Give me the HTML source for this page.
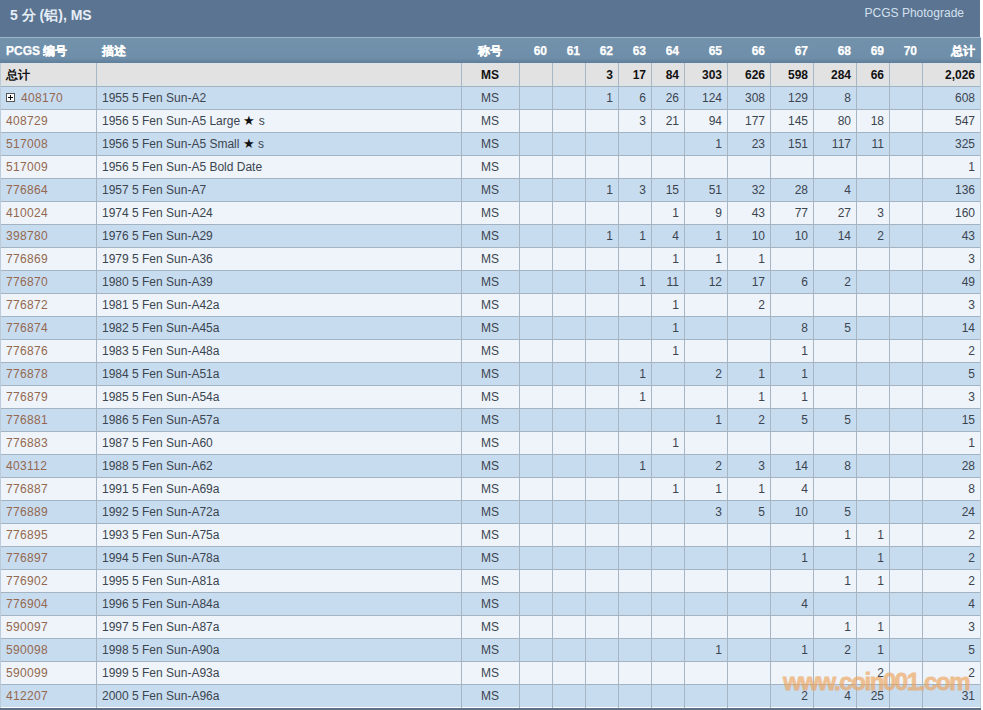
<!DOCTYPE html>
<html><head><meta charset="utf-8"><style>
*{margin:0;padding:0;box-sizing:border-box}
html,body{width:983px;height:710px;overflow:hidden;background:#fff}
body{position:relative;font-family:"Liberation Sans",sans-serif;font-size:12px;color:#3b4550}
.a{position:absolute}
#title{left:0;top:0;width:980px;height:37px;background:#5b7491}
#title .t{left:10px;top:6px;font-size:14px;font-weight:bold;color:#e6eef7;line-height:18px;white-space:nowrap}
#title .p{right:16px;top:5px;font-size:12px;color:#d3e1ef;line-height:16px}
#hline{left:0;top:37px;width:981px;height:1px;background:#9fb6cc}
#head{left:0;top:38px;width:981px;height:25px;background:linear-gradient(#7292ac 0,#6f8ea9 80%,#5f7e99 100%)}
.h{top:0;height:25px;line-height:26px;font-weight:bold;color:#fff;-webkit-text-stroke:0.25px #fff;white-space:nowrap}
#tot{left:0;top:63px;width:981px;height:23px;background:linear-gradient(#dde3e8 0,#e2e2e3 1px,#e2e2e3 19px,#e0e4e4 21px,#dde4e6 23px)}
.r{left:0;width:981px;height:23px}
.o{background:#c8dcef}
.e{background:#eef4f9}
.c{height:23px;line-height:25px;white-space:nowrap}
.vl{width:1px;background:#a7b6c4}
.hl{left:0;width:981px;height:1px;background:#a3b3c2}
.lk{color:#946850;letter-spacing:0.35px}
.b{font-weight:bold;color:#111}
.st{color:#111;font-size:13px;line-height:0}
#wm{left:783px;top:668px;font-size:24px;font-weight:bold;color:#eea258;-webkit-text-stroke:0.8px #eea258;opacity:0.64;letter-spacing:-1.4px;line-height:28px;white-space:nowrap}
.plus{left:6px;width:9px;height:9px;border:1px solid #555;background:#fff}
.plus:before{content:"";position:absolute;left:1px;top:3px;width:5px;height:1px;background:#000}
.plus:after{content:"";position:absolute;left:3px;top:1px;width:1px;height:5px;background:#000}
</style></head><body>

<div id="title" class="a"><div class="a t">5 分 (铝), MS</div><div class="a p">PCGS Photograde</div></div>
<div id="hline" class="a"></div>
<div id="head" class="a"><div class="a h" style="left:6px">PCGS 编号</div><div class="a h" style="left:102px">描述</div><div class="a h" style="left:461px;width:58px;text-align:center">称号</div><div class="a h" style="left:519px;width:28px;text-align:right">60</div><div class="a h" style="left:552px;width:28px;text-align:right">61</div><div class="a h" style="left:585px;width:28px;text-align:right">62</div><div class="a h" style="left:618px;width:28px;text-align:right">63</div><div class="a h" style="left:651px;width:28px;text-align:right">64</div><div class="a h" style="left:684px;width:38px;text-align:right">65</div><div class="a h" style="left:727px;width:38px;text-align:right">66</div><div class="a h" style="left:770px;width:38px;text-align:right">67</div><div class="a h" style="left:813px;width:38px;text-align:right">68</div><div class="a h" style="left:856px;width:28px;text-align:right">69</div><div class="a h" style="left:889px;width:28px;text-align:right">70</div><div class="a h" style="left:922px;width:53px;text-align:right">总计</div></div>
<div id="tot" class="a"></div>
<div class="a r o" style="top:86px"></div>
<div class="a plus" style="top:93px"></div>
<div class="a r e" style="top:109px"></div>
<div class="a r o" style="top:132px"></div>
<div class="a r e" style="top:155px"></div>
<div class="a r o" style="top:178px"></div>
<div class="a r e" style="top:201px"></div>
<div class="a r o" style="top:224px"></div>
<div class="a r e" style="top:247px"></div>
<div class="a r o" style="top:270px"></div>
<div class="a r e" style="top:293px"></div>
<div class="a r o" style="top:316px"></div>
<div class="a r e" style="top:339px"></div>
<div class="a r o" style="top:362px"></div>
<div class="a r e" style="top:385px"></div>
<div class="a r o" style="top:408px"></div>
<div class="a r e" style="top:431px"></div>
<div class="a r o" style="top:454px"></div>
<div class="a r e" style="top:477px"></div>
<div class="a r o" style="top:500px"></div>
<div class="a r e" style="top:523px"></div>
<div class="a r o" style="top:546px"></div>
<div class="a r e" style="top:569px"></div>
<div class="a r o" style="top:592px"></div>
<div class="a r e" style="top:615px"></div>
<div class="a r o" style="top:638px"></div>
<div class="a r e" style="top:661px"></div>
<div class="a r o" style="top:684px"></div>
<div class="a hl" style="top:86px"></div>
<div class="a hl" style="top:109px"></div>
<div class="a hl" style="top:132px"></div>
<div class="a hl" style="top:155px"></div>
<div class="a hl" style="top:178px"></div>
<div class="a hl" style="top:201px"></div>
<div class="a hl" style="top:224px"></div>
<div class="a hl" style="top:247px"></div>
<div class="a hl" style="top:270px"></div>
<div class="a hl" style="top:293px"></div>
<div class="a hl" style="top:316px"></div>
<div class="a hl" style="top:339px"></div>
<div class="a hl" style="top:362px"></div>
<div class="a hl" style="top:385px"></div>
<div class="a hl" style="top:408px"></div>
<div class="a hl" style="top:431px"></div>
<div class="a hl" style="top:454px"></div>
<div class="a hl" style="top:477px"></div>
<div class="a hl" style="top:500px"></div>
<div class="a hl" style="top:523px"></div>
<div class="a hl" style="top:546px"></div>
<div class="a hl" style="top:569px"></div>
<div class="a hl" style="top:592px"></div>
<div class="a hl" style="top:615px"></div>
<div class="a hl" style="top:638px"></div>
<div class="a hl" style="top:661px"></div>
<div class="a hl" style="top:684px"></div>
<div class="a" style="left:0;top:708px;width:981px;height:2px;background:#5d7188"></div>
<div class="a vl" style="left:0px;top:63px;height:645px;background:#bccbd9"></div>
<div class="a vl" style="left:96px;top:63px;height:645px"></div>
<div class="a vl" style="left:461px;top:63px;height:645px"></div>
<div class="a vl" style="left:519px;top:63px;height:645px"></div>
<div class="a vl" style="left:552px;top:63px;height:645px"></div>
<div class="a vl" style="left:585px;top:63px;height:645px"></div>
<div class="a vl" style="left:618px;top:63px;height:645px"></div>
<div class="a vl" style="left:651px;top:63px;height:645px"></div>
<div class="a vl" style="left:684px;top:63px;height:645px"></div>
<div class="a vl" style="left:727px;top:63px;height:645px"></div>
<div class="a vl" style="left:770px;top:63px;height:645px"></div>
<div class="a vl" style="left:813px;top:63px;height:645px"></div>
<div class="a vl" style="left:856px;top:63px;height:645px"></div>
<div class="a vl" style="left:889px;top:63px;height:645px"></div>
<div class="a vl" style="left:922px;top:63px;height:645px"></div>
<div class="a vl" style="left:980px;top:63px;height:645px;background:#bccbd9"></div>
<div id="wm" class="a">www.coin001.com</div>
<div class="a c b " style="left:6px;top:63px">总计</div><div class="a c b" style="left:102px;top:63px"></div><div class="a c b" style="left:461px;top:63px;width:58px;text-align:center">MS</div><div class="a c b" style="left:585px;top:63px;width:28px;text-align:right">3</div><div class="a c b" style="left:618px;top:63px;width:28px;text-align:right">17</div><div class="a c b" style="left:651px;top:63px;width:28px;text-align:right">84</div><div class="a c b" style="left:684px;top:63px;width:38px;text-align:right">303</div><div class="a c b" style="left:727px;top:63px;width:38px;text-align:right">626</div><div class="a c b" style="left:770px;top:63px;width:38px;text-align:right">598</div><div class="a c b" style="left:813px;top:63px;width:38px;text-align:right">284</div><div class="a c b" style="left:856px;top:63px;width:28px;text-align:right">66</div><div class="a c b" style="left:922px;top:63px;width:53px;text-align:right">2,026</div>
<div class="a c " style="left:6px;top:86px"><span class="lk" style="margin-left:15px">408170</span></div><div class="a c" style="left:102px;top:86px">1955 5 Fen Sun-A2</div><div class="a c" style="left:461px;top:86px;width:58px;text-align:center">MS</div><div class="a c" style="left:585px;top:86px;width:28px;text-align:right">1</div><div class="a c" style="left:618px;top:86px;width:28px;text-align:right">6</div><div class="a c" style="left:651px;top:86px;width:28px;text-align:right">26</div><div class="a c" style="left:684px;top:86px;width:38px;text-align:right">124</div><div class="a c" style="left:727px;top:86px;width:38px;text-align:right">308</div><div class="a c" style="left:770px;top:86px;width:38px;text-align:right">129</div><div class="a c" style="left:813px;top:86px;width:38px;text-align:right">8</div><div class="a c" style="left:922px;top:86px;width:53px;text-align:right">608</div>
<div class="a c " style="left:6px;top:109px"><span class="lk">408729</span></div><div class="a c" style="left:102px;top:109px">1956 5 Fen Sun-A5 Large <span class="st">★</span> s</div><div class="a c" style="left:461px;top:109px;width:58px;text-align:center">MS</div><div class="a c" style="left:618px;top:109px;width:28px;text-align:right">3</div><div class="a c" style="left:651px;top:109px;width:28px;text-align:right">21</div><div class="a c" style="left:684px;top:109px;width:38px;text-align:right">94</div><div class="a c" style="left:727px;top:109px;width:38px;text-align:right">177</div><div class="a c" style="left:770px;top:109px;width:38px;text-align:right">145</div><div class="a c" style="left:813px;top:109px;width:38px;text-align:right">80</div><div class="a c" style="left:856px;top:109px;width:28px;text-align:right">18</div><div class="a c" style="left:922px;top:109px;width:53px;text-align:right">547</div>
<div class="a c " style="left:6px;top:132px"><span class="lk">517008</span></div><div class="a c" style="left:102px;top:132px">1956 5 Fen Sun-A5 Small <span class="st">★</span> s</div><div class="a c" style="left:461px;top:132px;width:58px;text-align:center">MS</div><div class="a c" style="left:684px;top:132px;width:38px;text-align:right">1</div><div class="a c" style="left:727px;top:132px;width:38px;text-align:right">23</div><div class="a c" style="left:770px;top:132px;width:38px;text-align:right">151</div><div class="a c" style="left:813px;top:132px;width:38px;text-align:right">117</div><div class="a c" style="left:856px;top:132px;width:28px;text-align:right">11</div><div class="a c" style="left:922px;top:132px;width:53px;text-align:right">325</div>
<div class="a c " style="left:6px;top:155px"><span class="lk">517009</span></div><div class="a c" style="left:102px;top:155px">1956 5 Fen Sun-A5 Bold Date</div><div class="a c" style="left:461px;top:155px;width:58px;text-align:center">MS</div><div class="a c" style="left:922px;top:155px;width:53px;text-align:right">1</div>
<div class="a c " style="left:6px;top:178px"><span class="lk">776864</span></div><div class="a c" style="left:102px;top:178px">1957 5 Fen Sun-A7</div><div class="a c" style="left:461px;top:178px;width:58px;text-align:center">MS</div><div class="a c" style="left:585px;top:178px;width:28px;text-align:right">1</div><div class="a c" style="left:618px;top:178px;width:28px;text-align:right">3</div><div class="a c" style="left:651px;top:178px;width:28px;text-align:right">15</div><div class="a c" style="left:684px;top:178px;width:38px;text-align:right">51</div><div class="a c" style="left:727px;top:178px;width:38px;text-align:right">32</div><div class="a c" style="left:770px;top:178px;width:38px;text-align:right">28</div><div class="a c" style="left:813px;top:178px;width:38px;text-align:right">4</div><div class="a c" style="left:922px;top:178px;width:53px;text-align:right">136</div>
<div class="a c " style="left:6px;top:201px"><span class="lk">410024</span></div><div class="a c" style="left:102px;top:201px">1974 5 Fen Sun-A24</div><div class="a c" style="left:461px;top:201px;width:58px;text-align:center">MS</div><div class="a c" style="left:651px;top:201px;width:28px;text-align:right">1</div><div class="a c" style="left:684px;top:201px;width:38px;text-align:right">9</div><div class="a c" style="left:727px;top:201px;width:38px;text-align:right">43</div><div class="a c" style="left:770px;top:201px;width:38px;text-align:right">77</div><div class="a c" style="left:813px;top:201px;width:38px;text-align:right">27</div><div class="a c" style="left:856px;top:201px;width:28px;text-align:right">3</div><div class="a c" style="left:922px;top:201px;width:53px;text-align:right">160</div>
<div class="a c " style="left:6px;top:224px"><span class="lk">398780</span></div><div class="a c" style="left:102px;top:224px">1976 5 Fen Sun-A29</div><div class="a c" style="left:461px;top:224px;width:58px;text-align:center">MS</div><div class="a c" style="left:585px;top:224px;width:28px;text-align:right">1</div><div class="a c" style="left:618px;top:224px;width:28px;text-align:right">1</div><div class="a c" style="left:651px;top:224px;width:28px;text-align:right">4</div><div class="a c" style="left:684px;top:224px;width:38px;text-align:right">1</div><div class="a c" style="left:727px;top:224px;width:38px;text-align:right">10</div><div class="a c" style="left:770px;top:224px;width:38px;text-align:right">10</div><div class="a c" style="left:813px;top:224px;width:38px;text-align:right">14</div><div class="a c" style="left:856px;top:224px;width:28px;text-align:right">2</div><div class="a c" style="left:922px;top:224px;width:53px;text-align:right">43</div>
<div class="a c " style="left:6px;top:247px"><span class="lk">776869</span></div><div class="a c" style="left:102px;top:247px">1979 5 Fen Sun-A36</div><div class="a c" style="left:461px;top:247px;width:58px;text-align:center">MS</div><div class="a c" style="left:651px;top:247px;width:28px;text-align:right">1</div><div class="a c" style="left:684px;top:247px;width:38px;text-align:right">1</div><div class="a c" style="left:727px;top:247px;width:38px;text-align:right">1</div><div class="a c" style="left:922px;top:247px;width:53px;text-align:right">3</div>
<div class="a c " style="left:6px;top:270px"><span class="lk">776870</span></div><div class="a c" style="left:102px;top:270px">1980 5 Fen Sun-A39</div><div class="a c" style="left:461px;top:270px;width:58px;text-align:center">MS</div><div class="a c" style="left:618px;top:270px;width:28px;text-align:right">1</div><div class="a c" style="left:651px;top:270px;width:28px;text-align:right">11</div><div class="a c" style="left:684px;top:270px;width:38px;text-align:right">12</div><div class="a c" style="left:727px;top:270px;width:38px;text-align:right">17</div><div class="a c" style="left:770px;top:270px;width:38px;text-align:right">6</div><div class="a c" style="left:813px;top:270px;width:38px;text-align:right">2</div><div class="a c" style="left:922px;top:270px;width:53px;text-align:right">49</div>
<div class="a c " style="left:6px;top:293px"><span class="lk">776872</span></div><div class="a c" style="left:102px;top:293px">1981 5 Fen Sun-A42a</div><div class="a c" style="left:461px;top:293px;width:58px;text-align:center">MS</div><div class="a c" style="left:651px;top:293px;width:28px;text-align:right">1</div><div class="a c" style="left:727px;top:293px;width:38px;text-align:right">2</div><div class="a c" style="left:922px;top:293px;width:53px;text-align:right">3</div>
<div class="a c " style="left:6px;top:316px"><span class="lk">776874</span></div><div class="a c" style="left:102px;top:316px">1982 5 Fen Sun-A45a</div><div class="a c" style="left:461px;top:316px;width:58px;text-align:center">MS</div><div class="a c" style="left:651px;top:316px;width:28px;text-align:right">1</div><div class="a c" style="left:770px;top:316px;width:38px;text-align:right">8</div><div class="a c" style="left:813px;top:316px;width:38px;text-align:right">5</div><div class="a c" style="left:922px;top:316px;width:53px;text-align:right">14</div>
<div class="a c " style="left:6px;top:339px"><span class="lk">776876</span></div><div class="a c" style="left:102px;top:339px">1983 5 Fen Sun-A48a</div><div class="a c" style="left:461px;top:339px;width:58px;text-align:center">MS</div><div class="a c" style="left:651px;top:339px;width:28px;text-align:right">1</div><div class="a c" style="left:770px;top:339px;width:38px;text-align:right">1</div><div class="a c" style="left:922px;top:339px;width:53px;text-align:right">2</div>
<div class="a c " style="left:6px;top:362px"><span class="lk">776878</span></div><div class="a c" style="left:102px;top:362px">1984 5 Fen Sun-A51a</div><div class="a c" style="left:461px;top:362px;width:58px;text-align:center">MS</div><div class="a c" style="left:618px;top:362px;width:28px;text-align:right">1</div><div class="a c" style="left:684px;top:362px;width:38px;text-align:right">2</div><div class="a c" style="left:727px;top:362px;width:38px;text-align:right">1</div><div class="a c" style="left:770px;top:362px;width:38px;text-align:right">1</div><div class="a c" style="left:922px;top:362px;width:53px;text-align:right">5</div>
<div class="a c " style="left:6px;top:385px"><span class="lk">776879</span></div><div class="a c" style="left:102px;top:385px">1985 5 Fen Sun-A54a</div><div class="a c" style="left:461px;top:385px;width:58px;text-align:center">MS</div><div class="a c" style="left:618px;top:385px;width:28px;text-align:right">1</div><div class="a c" style="left:727px;top:385px;width:38px;text-align:right">1</div><div class="a c" style="left:770px;top:385px;width:38px;text-align:right">1</div><div class="a c" style="left:922px;top:385px;width:53px;text-align:right">3</div>
<div class="a c " style="left:6px;top:408px"><span class="lk">776881</span></div><div class="a c" style="left:102px;top:408px">1986 5 Fen Sun-A57a</div><div class="a c" style="left:461px;top:408px;width:58px;text-align:center">MS</div><div class="a c" style="left:684px;top:408px;width:38px;text-align:right">1</div><div class="a c" style="left:727px;top:408px;width:38px;text-align:right">2</div><div class="a c" style="left:770px;top:408px;width:38px;text-align:right">5</div><div class="a c" style="left:813px;top:408px;width:38px;text-align:right">5</div><div class="a c" style="left:922px;top:408px;width:53px;text-align:right">15</div>
<div class="a c " style="left:6px;top:431px"><span class="lk">776883</span></div><div class="a c" style="left:102px;top:431px">1987 5 Fen Sun-A60</div><div class="a c" style="left:461px;top:431px;width:58px;text-align:center">MS</div><div class="a c" style="left:651px;top:431px;width:28px;text-align:right">1</div><div class="a c" style="left:922px;top:431px;width:53px;text-align:right">1</div>
<div class="a c " style="left:6px;top:454px"><span class="lk">403112</span></div><div class="a c" style="left:102px;top:454px">1988 5 Fen Sun-A62</div><div class="a c" style="left:461px;top:454px;width:58px;text-align:center">MS</div><div class="a c" style="left:618px;top:454px;width:28px;text-align:right">1</div><div class="a c" style="left:684px;top:454px;width:38px;text-align:right">2</div><div class="a c" style="left:727px;top:454px;width:38px;text-align:right">3</div><div class="a c" style="left:770px;top:454px;width:38px;text-align:right">14</div><div class="a c" style="left:813px;top:454px;width:38px;text-align:right">8</div><div class="a c" style="left:922px;top:454px;width:53px;text-align:right">28</div>
<div class="a c " style="left:6px;top:477px"><span class="lk">776887</span></div><div class="a c" style="left:102px;top:477px">1991 5 Fen Sun-A69a</div><div class="a c" style="left:461px;top:477px;width:58px;text-align:center">MS</div><div class="a c" style="left:651px;top:477px;width:28px;text-align:right">1</div><div class="a c" style="left:684px;top:477px;width:38px;text-align:right">1</div><div class="a c" style="left:727px;top:477px;width:38px;text-align:right">1</div><div class="a c" style="left:770px;top:477px;width:38px;text-align:right">4</div><div class="a c" style="left:922px;top:477px;width:53px;text-align:right">8</div>
<div class="a c " style="left:6px;top:500px"><span class="lk">776889</span></div><div class="a c" style="left:102px;top:500px">1992 5 Fen Sun-A72a</div><div class="a c" style="left:461px;top:500px;width:58px;text-align:center">MS</div><div class="a c" style="left:684px;top:500px;width:38px;text-align:right">3</div><div class="a c" style="left:727px;top:500px;width:38px;text-align:right">5</div><div class="a c" style="left:770px;top:500px;width:38px;text-align:right">10</div><div class="a c" style="left:813px;top:500px;width:38px;text-align:right">5</div><div class="a c" style="left:922px;top:500px;width:53px;text-align:right">24</div>
<div class="a c " style="left:6px;top:523px"><span class="lk">776895</span></div><div class="a c" style="left:102px;top:523px">1993 5 Fen Sun-A75a</div><div class="a c" style="left:461px;top:523px;width:58px;text-align:center">MS</div><div class="a c" style="left:813px;top:523px;width:38px;text-align:right">1</div><div class="a c" style="left:856px;top:523px;width:28px;text-align:right">1</div><div class="a c" style="left:922px;top:523px;width:53px;text-align:right">2</div>
<div class="a c " style="left:6px;top:546px"><span class="lk">776897</span></div><div class="a c" style="left:102px;top:546px">1994 5 Fen Sun-A78a</div><div class="a c" style="left:461px;top:546px;width:58px;text-align:center">MS</div><div class="a c" style="left:770px;top:546px;width:38px;text-align:right">1</div><div class="a c" style="left:856px;top:546px;width:28px;text-align:right">1</div><div class="a c" style="left:922px;top:546px;width:53px;text-align:right">2</div>
<div class="a c " style="left:6px;top:569px"><span class="lk">776902</span></div><div class="a c" style="left:102px;top:569px">1995 5 Fen Sun-A81a</div><div class="a c" style="left:461px;top:569px;width:58px;text-align:center">MS</div><div class="a c" style="left:813px;top:569px;width:38px;text-align:right">1</div><div class="a c" style="left:856px;top:569px;width:28px;text-align:right">1</div><div class="a c" style="left:922px;top:569px;width:53px;text-align:right">2</div>
<div class="a c " style="left:6px;top:592px"><span class="lk">776904</span></div><div class="a c" style="left:102px;top:592px">1996 5 Fen Sun-A84a</div><div class="a c" style="left:461px;top:592px;width:58px;text-align:center">MS</div><div class="a c" style="left:770px;top:592px;width:38px;text-align:right">4</div><div class="a c" style="left:922px;top:592px;width:53px;text-align:right">4</div>
<div class="a c " style="left:6px;top:615px"><span class="lk">590097</span></div><div class="a c" style="left:102px;top:615px">1997 5 Fen Sun-A87a</div><div class="a c" style="left:461px;top:615px;width:58px;text-align:center">MS</div><div class="a c" style="left:813px;top:615px;width:38px;text-align:right">1</div><div class="a c" style="left:856px;top:615px;width:28px;text-align:right">1</div><div class="a c" style="left:922px;top:615px;width:53px;text-align:right">3</div>
<div class="a c " style="left:6px;top:638px"><span class="lk">590098</span></div><div class="a c" style="left:102px;top:638px">1998 5 Fen Sun-A90a</div><div class="a c" style="left:461px;top:638px;width:58px;text-align:center">MS</div><div class="a c" style="left:684px;top:638px;width:38px;text-align:right">1</div><div class="a c" style="left:770px;top:638px;width:38px;text-align:right">1</div><div class="a c" style="left:813px;top:638px;width:38px;text-align:right">2</div><div class="a c" style="left:856px;top:638px;width:28px;text-align:right">1</div><div class="a c" style="left:922px;top:638px;width:53px;text-align:right">5</div>
<div class="a c " style="left:6px;top:661px"><span class="lk">590099</span></div><div class="a c" style="left:102px;top:661px">1999 5 Fen Sun-A93a</div><div class="a c" style="left:461px;top:661px;width:58px;text-align:center">MS</div><div class="a c" style="left:856px;top:661px;width:28px;text-align:right">2</div><div class="a c" style="left:922px;top:661px;width:53px;text-align:right">2</div>
<div class="a c " style="left:6px;top:684px"><span class="lk">412207</span></div><div class="a c" style="left:102px;top:684px">2000 5 Fen Sun-A96a</div><div class="a c" style="left:461px;top:684px;width:58px;text-align:center">MS</div><div class="a c" style="left:770px;top:684px;width:38px;text-align:right">2</div><div class="a c" style="left:813px;top:684px;width:38px;text-align:right">4</div><div class="a c" style="left:856px;top:684px;width:28px;text-align:right">25</div><div class="a c" style="left:922px;top:684px;width:53px;text-align:right">31</div>
</body></html>
